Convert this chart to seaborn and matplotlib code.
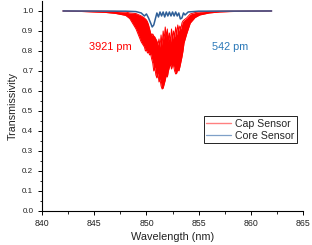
import numpy as np
import pandas as pd
import matplotlib
matplotlib.use("Agg")
import matplotlib.pyplot as plt
import seaborn as sns
from matplotlib.lines import Line2D

# ---- data ----
cap_wl = [842, 844, 846, 847, 848, 848.4, 849.0, 849.5,
          849.8, 849.9, 850.0, 850.1, 850.2, 850.3, 850.4, 850.5, 850.6, 850.7,
          850.8, 850.9, 851.0, 851.1, 851.2, 851.3, 851.4, 851.5, 851.6, 851.7,
          851.8, 851.9, 852.0, 852.1, 852.2, 852.3, 852.4, 852.5, 852.6, 852.7,
          852.8, 852.9, 853.0, 853.1, 853.2, 853.3, 853.4, 853.5, 853.6,
          853.85, 854.2, 854.65, 855.1, 856, 857, 858, 860, 862]
cap_low = [1.0, 0.997, 0.993, 0.988, 0.978, 0.962, 0.91, 0.845,
           0.82, 0.80, 0.805, 0.79, 0.795, 0.78, 0.785, 0.76, 0.74, 0.70,
           0.72, 0.68, 0.665, 0.69, 0.645, 0.66, 0.625, 0.61, 0.615, 0.635,
           0.655, 0.68, 0.67, 0.70, 0.72, 0.735, 0.71, 0.73, 0.725, 0.70,
           0.685, 0.69, 0.71, 0.70, 0.72, 0.745, 0.77, 0.80, 0.84,
           0.885, 0.94, 0.967, 0.98, 0.99, 0.995, 0.997, 0.999, 1.0]
cap_high = [1.0, 1.0, 0.999, 0.998, 0.995, 0.99, 0.987, 0.975,
            0.965, 0.96, 0.955, 0.945, 0.93, 0.91, 0.89, 0.88, 0.885, 0.875,
            0.87, 0.86, 0.85, 0.83, 0.86, 0.82, 0.88, 0.83, 0.90, 0.86,
            0.92, 0.87, 0.91, 0.85, 0.89, 0.84, 0.91, 0.86, 0.90, 0.87,
            0.92, 0.88, 0.93, 0.90, 0.925, 0.91, 0.94, 0.95, 0.955,
            0.965, 0.985, 0.992, 0.996, 0.998, 0.999, 1.0, 1.0, 1.0]

core_wl = [842, 848, 849, 849.5, 849.8, 850.0, 850.2, 850.4, 850.55, 850.7, 850.85,
           851.0, 851.15, 851.3, 851.45, 851.6, 851.75, 851.9, 852.05, 852.2, 852.35,
           852.5, 852.65, 852.8, 852.95, 853.1, 853.25, 853.4, 853.55, 853.7, 854.0,
           855.0, 862]
core_t = [1.0, 0.999, 0.997, 0.99, 0.975, 0.985, 0.965, 0.94, 0.92, 0.93, 0.96,
          0.99, 0.97, 0.995, 0.975, 0.995, 0.97, 0.995, 0.975, 0.995, 0.975,
          0.995, 0.975, 0.995, 0.975, 0.99, 0.96, 0.965, 0.99, 0.98, 0.995,
          0.999, 1.0]

x_ticks = [840, 845, 850, 855, 860, 865]
y_ticks = [0.0, 0.1, 0.2, 0.3, 0.4, 0.5, 0.6, 0.7, 0.8, 0.9, 1.0]
cap_label = "Cap Sensor"
core_label = "Core Sensor"
cap_note = "3921 pm"
core_note = "542 pm"

# ---- plotting ----
sns.set_theme(style="ticks")
plt.rcParams["font.family"] = ["Liberation Sans", "DejaVu Sans"]

RED = "#ff0000"
BLUE = "#2f5f98"

fig = plt.figure(figsize=(3.12, 2.45), dpi=100)
ax = fig.add_axes([0.135, 0.139, 0.836, 0.857])

cap_df = pd.DataFrame({"wl": cap_wl, "low": cap_low, "high": cap_high})
core_df = pd.DataFrame({"wl": core_wl, "t": core_t})

ax.fill_between(cap_df["wl"], cap_df["low"], cap_df["high"], color=RED, lw=0)
sns.lineplot(data=cap_df, x="wl", y="low", ax=ax, color=RED, lw=0.7, legend=False)
sns.lineplot(data=cap_df, x="wl", y="high", ax=ax, color=RED, lw=0.7, legend=False)
sns.lineplot(data=core_df, x="wl", y="t", ax=ax, color=BLUE, lw=1.1, legend=False)

ax.set_xlim(840, 865)
ax.set_ylim(0, 1.05)
ax.set_xticks(x_ticks)
ax.set_xticklabels([str(v) for v in x_ticks])
ax.set_yticks(y_ticks)
ax.set_yticklabels([f"{v:.1f}" for v in y_ticks])
ax.set_xticks([842.5, 847.5, 852.5, 857.5, 862.5], minor=True)
ax.set_yticks([0.05 + 0.1 * i for i in range(10)], minor=True)

ax.tick_params(axis="x", which="major", length=3, width=0.7, labelsize=6.3, pad=3,
               colors="black", labelcolor="#222222")
ax.tick_params(axis="y", which="major", length=3, width=0.7, labelsize=5.8, pad=3.3,
               colors="black", labelcolor="#222222")
ax.tick_params(which="minor", length=1.8, width=0.6, colors="black")

for s in ["top", "right"]:
    ax.spines[s].set_visible(False)
for s in ["left", "bottom"]:
    ax.spines[s].set_linewidth(0.8)
    ax.spines[s].set_color("black")

ax.set_xlabel("Wavelength (nm)", fontsize=7.8, labelpad=3, color="#222222")
ax.set_ylabel("Transmissivity", fontsize=7.7, labelpad=3, color="#222222")

ax.text(846.58, 0.818, cap_note, color=RED, fontsize=7.9, ha="center", va="center")
ax.text(858.04, 0.818, core_note, color="#2a78b8", fontsize=7.8, ha="center", va="center")

handles = [Line2D([], [], color="#ff8080", lw=1.0),
           Line2D([], [], color="#7fa0c8", lw=0.9)]
leg = ax.legend(handles, [cap_label, core_label], loc="upper left",
                bbox_to_anchor=(0.62, 0.45), fontsize=7.6, frameon=True,
                fancybox=False, shadow=False, handlelength=2.3, handletextpad=0.4,
                borderpad=0.25, labelspacing=0.15, borderaxespad=0)
leg.get_frame().set_edgecolor("black")
leg.get_frame().set_linewidth(0.6)
leg.get_frame().set_alpha(1)

fig.savefig("out.png", dpi=100)
